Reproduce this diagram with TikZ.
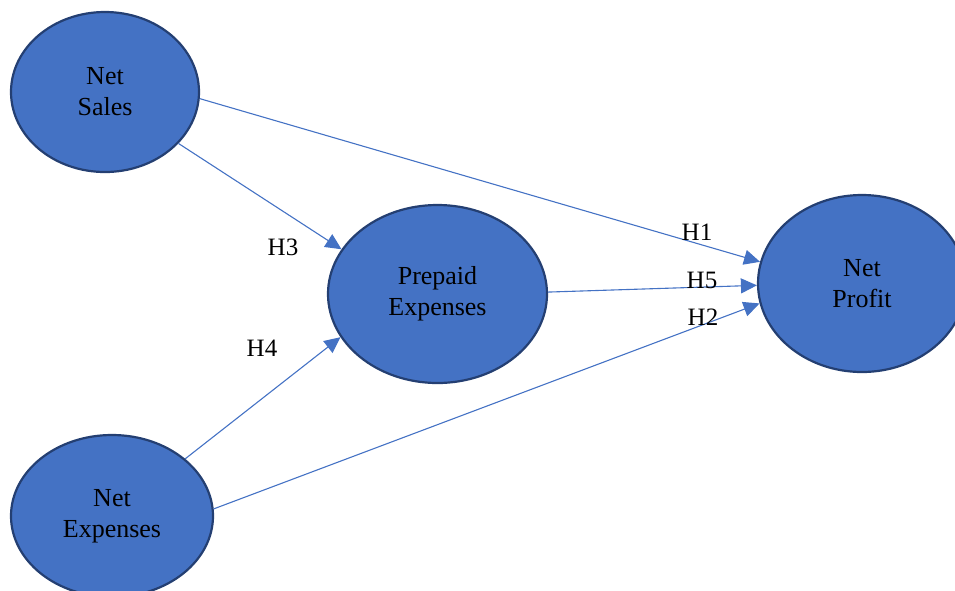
\documentclass[tikz,border=0pt]{standalone}
\usepackage{fontspec}
\setmainfont{Liberation Serif}
\usetikzlibrary{shapes.geometric,arrows.meta}
\definecolor{efill}{HTML}{4472C4}
\definecolor{eborder}{HTML}{243F72}
\definecolor{eline}{HTML}{4472C4}
\tikzset{
  construct/.style={ellipse, draw=eborder, fill=efill, line width=2.2pt, inner sep=0pt,
    align=center, font=\fontsize{26}{31}\selectfont, text=black},
  link/.style={draw=eline, line width=1.1pt, -{Triangle[length=16pt,width=15pt]}},
  hlabel/.style={font=\fontsize{25}{30}\selectfont, inner sep=0pt, text=black}
}
\begin{document}
\begin{tikzpicture}[x=1pt,y=-1pt]
\useasboundingbox (0,0) rectangle (955,590);
\node[construct, minimum width=188pt, minimum height=160pt] (ns) at (105,92) {Net\\Sales};
\node[construct, minimum width=219pt, minimum height=178pt] (pe) at (437.5,294) {Prepaid\\Expenses};
\node[construct, minimum width=208pt, minimum height=177pt] (np) at (862,283.5) {Net\\Profit};
\node[construct, minimum width=202pt, minimum height=162pt] (ne) at (112,516) {Net\\Expenses};
\draw[link] (ns.-4.2) -- (np.168);
\draw[link] (ns.-35) -- (pe.155.4);
\draw[link] (ne.38.9) -- (pe.-156.3);
\draw[link] (ne.4.5) -- (np.191.6);
\draw[link] (pe.1) -- (np.181.4);
\node[hlabel] (h1) at (697,232) {H1};
\node[hlabel] (h5) at (702,280) {H5};
\node[hlabel] (h2) at (703,317) {H2};
\node[hlabel] (h3) at (283,247) {H3};
\node[hlabel] (h4) at (262,348) {H4};
\end{tikzpicture}
\end{document}
